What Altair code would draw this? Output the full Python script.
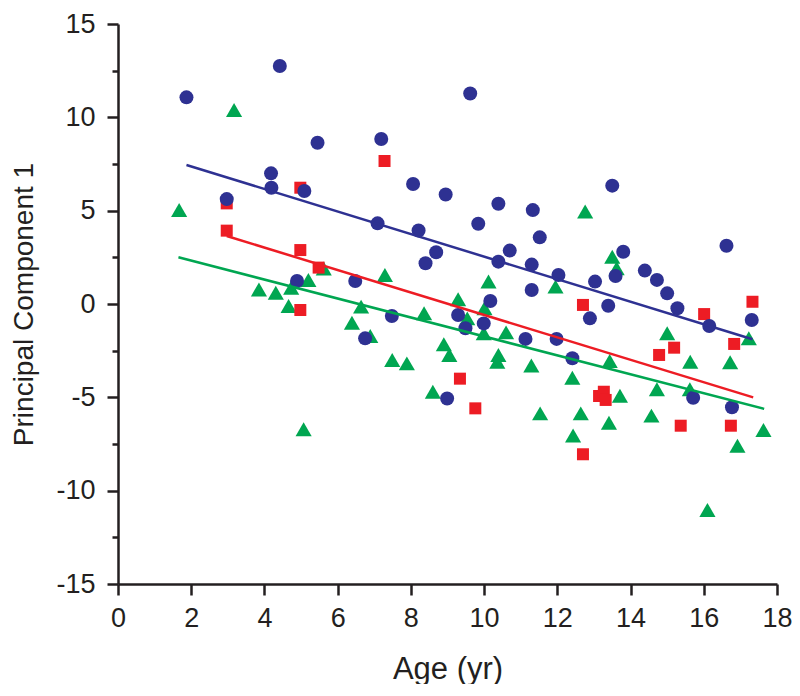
import altair as alt
import pandas as pd

# ---- data ----
blue_x = [1.87, 4.42, 5.45, 4.18, 4.19, 5.09, 2.97, 4.89, 9.62, 7.19, 8.06, 8.95, 10.39, 11.33,
          7.09, 8.21, 9.84, 11.52, 8.69, 8.40, 10.70, 10.39, 11.30, 12.03, 6.48, 11.30, 10.17,
          7.48, 9.29, 6.75, 9.49, 9.99, 11.13, 11.98, 8.99, 13.50, 13.80, 13.59, 16.62, 13.03,
          14.39, 14.72, 15.00, 15.28, 13.39, 12.89, 17.31, 16.15, 12.41, 15.71, 16.77]
blue_y = [11.07, 12.75, 8.64, 7.00, 6.23, 6.05, 5.62, 1.23, 11.28, 8.84, 6.43, 5.87, 5.37, 5.03,
          4.32, 3.94, 4.30, 3.57, 2.77, 2.18, 2.86, 2.27, 2.11, 1.55, 1.23, 0.75, 0.16,
          -0.64, -0.59, -1.84, -1.30, -1.04, -1.87, -1.87, -5.06, 6.34, 2.80, 1.50, 3.12, 1.20,
          1.79, 1.29, 0.57, -0.23, -0.09, -0.77, -0.86, -1.18, -2.91, -5.02, -5.53]

red_x = [4.98, 2.97, 2.97, 4.98, 5.48, 4.98, 7.28, 9.34, 9.76, 12.70, 16.01, 17.33, 14.78,
         15.19, 16.83, 13.14, 13.27, 13.32, 15.37, 16.74, 12.70]
red_y = [6.23, 5.39, 3.93, 2.89, 1.95, -0.32, 7.66, -4.00, -5.59, -0.05, -0.54, 0.12, -2.73,
         -2.34, -2.14, -4.93, -4.70, -5.14, -6.52, -6.52, -8.05]

green_x = [3.17, 1.67, 5.62, 5.20, 3.85, 4.31, 4.73, 4.66, 5.07, 11.95, 7.29, 10.12, 9.29, 6.64,
           8.36, 10.01, 6.39, 6.89, 9.54, 9.99, 10.60, 8.90, 9.05, 10.39, 10.36, 7.49, 7.89,
           11.29, 8.60, 11.53, 12.76, 13.50, 13.62, 17.23, 12.41, 13.43, 15.00, 15.63, 16.72,
           13.71, 14.72, 15.62, 12.64, 13.41, 14.57, 17.63, 12.43, 16.92, 16.10]
green_y = [10.39, 5.03, 1.90, 1.29, 0.78, 0.60, 0.87, -0.11, -6.71, 0.93, 1.55, 1.20, 0.25, -0.14,
           -0.50, -0.23, -1.00, -1.71, -0.77, -1.57, -1.52, -2.16, -2.73, -2.73, -3.09, -3.00, -3.18,
           -3.30, -4.70, -5.86, 4.95, 2.53, 1.91, -1.84, -3.95, -3.05, -1.57, -3.09, -3.12,
           -4.91, -4.57, -4.57, -5.86, -6.36, -5.98, -6.75, -7.05, -7.59, -11.03]

# fitted line end points
fit_blue_x = [1.87, 17.33]
fit_blue_y = [7.45, -1.89]
fit_red_x = [2.97, 17.35]
fit_red_y = [3.64, -5.00]
fit_green_x = [1.65, 17.65]
fit_green_y = [2.50, -5.62]

groups = ["blue", "red", "green"]
colors = ["#2E3192", "#ED1C24", "#00A651"]

x_ticks = list(range(0, 19))
y_ticks = [-15, -12.5, -10, -7.5, -5, -2.5, 0, 2.5, 5, 7.5, 10, 12.5, 15]

# ---- tables ----
df_blue = pd.DataFrame({"age": blue_x, "pc1": blue_y})
df_red = pd.DataFrame({"age": red_x, "pc1": red_y})
df_green = pd.DataFrame({"age": green_x, "pc1": green_y})

fits = pd.concat([
    pd.DataFrame({"age": fit_blue_x, "pc1": fit_blue_y, "g": "blue"}),
    pd.DataFrame({"age": fit_red_x, "pc1": fit_red_y, "g": "red"}),
    pd.DataFrame({"age": fit_green_x, "pc1": fit_green_y, "g": "green"}),
], ignore_index=True)

font = "Liberation Sans"
ink = "#231F20"

x_scale = alt.Scale(domain=[0, 18], nice=False, zero=False)
y_scale = alt.Scale(domain=[-15, 15], nice=False, zero=False)

x_axis = alt.Axis(
    title="Age (yr)", values=x_ticks, grid=False,
    labelExpr="datum.value % 2 == 0 ? '' + datum.value : ''",
    labelFont=font, labelFontSize=27, labelColor=ink, labelPadding=10,
    labelOverlap=False, labelFlush=False,
    tickSize={"condition": {"test": "datum.value % 2 != 0", "value": 6}, "value": 11},
    tickWidth=2.5, tickColor=ink,
    domainWidth=2.5, domainColor=ink,
    titleFont=font, titleFontSize=31, titleFontWeight="normal", titleColor=ink,
    titleX=329.5, titleY=94, titleBaseline="alphabetic", titleAlign="center",
)
y_axis = alt.Axis(
    title="Principal Component 1", values=y_ticks, grid=False,
    labelExpr="datum.value % 5 == 0 ? '' + datum.value : ''",
    labelFont=font, labelFontSize=27, labelColor=ink, labelPadding=12,
    labelOverlap=False, labelFlush=False,
    tickSize={"condition": {"test": "datum.value % 5 != 0", "value": 6}, "value": 11},
    tickWidth=2.5, tickColor=ink,
    domainWidth=2.5, domainColor=ink,
    titleFont=font, titleFontSize=28, titleFontWeight="normal", titleColor=ink,
    titleX=-86, titleY=280, titleAngle=270, titleBaseline="alphabetic", titleAlign="center",
)


def pts(df, shape, size, col, axes=False):
    if axes:
        enc_x = alt.X("age:Q", scale=x_scale, axis=x_axis)
        enc_y = alt.Y("pc1:Q", scale=y_scale, axis=y_axis)
    else:
        enc_x = alt.X("age:Q", scale=x_scale)
        enc_y = alt.Y("pc1:Q", scale=y_scale)
    return alt.Chart(df).mark_point(
        shape=shape, size=size, filled=True, opacity=1, strokeWidth=0, color=col
    ).encode(x=enc_x, y=enc_y)


green_pts = pts(df_green, "triangle-up", 260, colors[2], axes=True)
red_pts = pts(df_red, "square", 144, colors[1])
blue_pts = pts(df_blue, "circle", 196, colors[0])

lines = alt.Chart(fits).mark_line(strokeWidth=2.5).encode(
    x=alt.X("age:Q", scale=x_scale),
    y=alt.Y("pc1:Q", scale=y_scale),
    color=alt.Color("g:N", scale=alt.Scale(domain=groups, range=colors), legend=None),
    detail="g:N",
)

chart = alt.layer(green_pts, red_pts, blue_pts, lines).properties(
    width=659, height=560,
    autosize=alt.AutoSizeParams(type="none"),
    padding={"left": 110, "top": 16, "right": 15, "bottom": 100},
    background="white",
).configure_view(stroke=None)

chart.save("out.html", embed_options={"renderer": "svg", "actions": False})
